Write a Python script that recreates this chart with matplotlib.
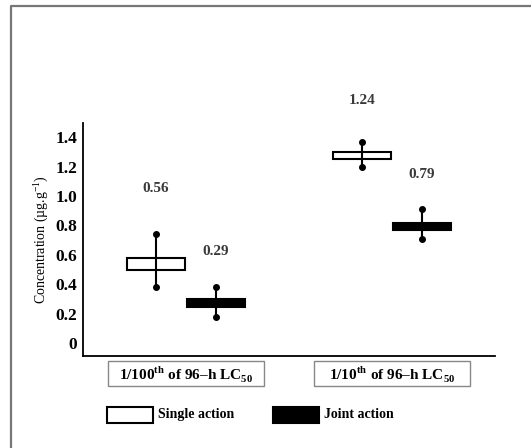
import matplotlib
matplotlib.use("Agg")
import matplotlib.pyplot as plt
import matplotlib.patches as mpatches
import matplotlib.transforms as mtransforms

plt.rcParams["font.family"] = ["Liberation Serif", "DejaVu Serif"]
plt.rcParams["mathtext.fontset"] = "custom"
plt.rcParams["mathtext.rm"] = "Liberation Serif:bold"
plt.rcParams["mathtext.sf"] = "Liberation Serif"

# data
groups = ["1/100$^{\\mathrm{th}}$ of 96\u2013h LC$_{\\mathrm{50}}$",
          "1/10$^{\\mathrm{th}}$ of 96\u2013h LC$_{\\mathrm{50}}$"]
group_pos = [1.0, 3.0]
single_box_lo = [0.50, 1.25]
single_box_hi = [0.58, 1.30]
single_wlo = [0.38, 1.20]
single_whi = [0.74, 1.37]
single_labels = ["0.56", "1.24"]
single_label_y = [1.05, 1.65]
joint_box_lo = [0.245, 0.77]
joint_box_hi = [0.30, 0.82]
joint_wlo = [0.18, 0.71]
joint_whi = [0.38, 0.91]
joint_labels = ["0.29", "0.79"]
joint_label_y = [0.62, 1.15]
yticks = [0, 0.2, 0.4, 0.6, 0.8, 1.0, 1.2, 1.4]
ytick_labels = ["0", "0.2", "0.4", "0.6", "0.8", "1.0", "1.2", "1.4"]

fig = plt.figure(figsize=(5.31, 4.48), dpi=100)
ax = fig.add_axes([83 / 531, 1 - 356 / 448, 412 / 531, 233 / 448])

off, bw = 0.29, 0.57
series = [
    (-off, single_box_lo, single_box_hi, single_wlo, single_whi, single_labels, single_label_y, "white"),
    (off, joint_box_lo, joint_box_hi, joint_wlo, joint_whi, joint_labels, joint_label_y, "black"),
]
for dx, lo, hi, wlo, whi, labs, laby, fc in series:
    for i, g in enumerate(group_pos):
        x = g + dx
        ax.add_patch(mpatches.Rectangle((x - bw / 2, lo[i]), bw, hi[i] - lo[i],
                                        fc=fc, ec="black", lw=1.5, zorder=2))
        ax.plot([x, x], [wlo[i], whi[i]], color="black", lw=1.5, zorder=3)
        ax.plot([x, x], [wlo[i], whi[i]], "o", color="black", ms=4, zorder=4)
        ax.text(x, laby[i], labs[i], ha="center", va="center", fontsize=11,
                fontweight="bold", color="#3a3a3a", clip_on=False)

ax.set_xlim(0, 4)
ax.set_ylim(-0.088, 1.497)
ax.set_yticks(yticks)
ax.set_yticklabels(ytick_labels, fontsize=12.5, fontweight="bold")
ax.set_xticks([])
ax.tick_params(axis="y", length=0, pad=4)
for s in ["top", "right"]:
    ax.spines[s].set_visible(False)
for s in ["left", "bottom"]:
    ax.spines[s].set_linewidth(1.3)
ax.set_ylabel("Concentration (\u00b5g.g$^{\\mathsf{-1}}$)", fontsize=10, labelpad=4)

# category label boxes under the axis
tr = mtransforms.blended_transform_factory(ax.transData, ax.transAxes)
for g, lab in zip(group_pos, groups):
    ax.add_patch(mpatches.Rectangle((g - 0.755, -0.128), 1.51, 0.105, transform=tr,
                                    fc="white", ec="#888888", lw=1.0, clip_on=False))
    ax.text(g, -0.076, lab, transform=tr, ha="center", va="center",
            fontsize=11, fontweight="bold", clip_on=False)

# legend
for x0, fc, lab in [(107, "white", "Single action"), (273, "black", "Joint action")]:
    fig.add_artist(mpatches.Rectangle((x0 / 531, 1 - 423 / 448), 46 / 531, 16 / 448,
                                      transform=fig.transFigure, fc=fc, ec="black", lw=1.5))
    fig.text((x0 + 51) / 531, 1 - 414 / 448, lab, ha="left", va="center",
             fontsize=10, fontweight="bold")

# outer frame (top and left edges)
fig.add_artist(plt.Line2D([11 / 531, 11 / 531, 1], [0, 1 - 6 / 448, 1 - 6 / 448],
                          transform=fig.transFigure, color="#777777", lw=1.6))

fig.savefig("out.png", dpi=100)
